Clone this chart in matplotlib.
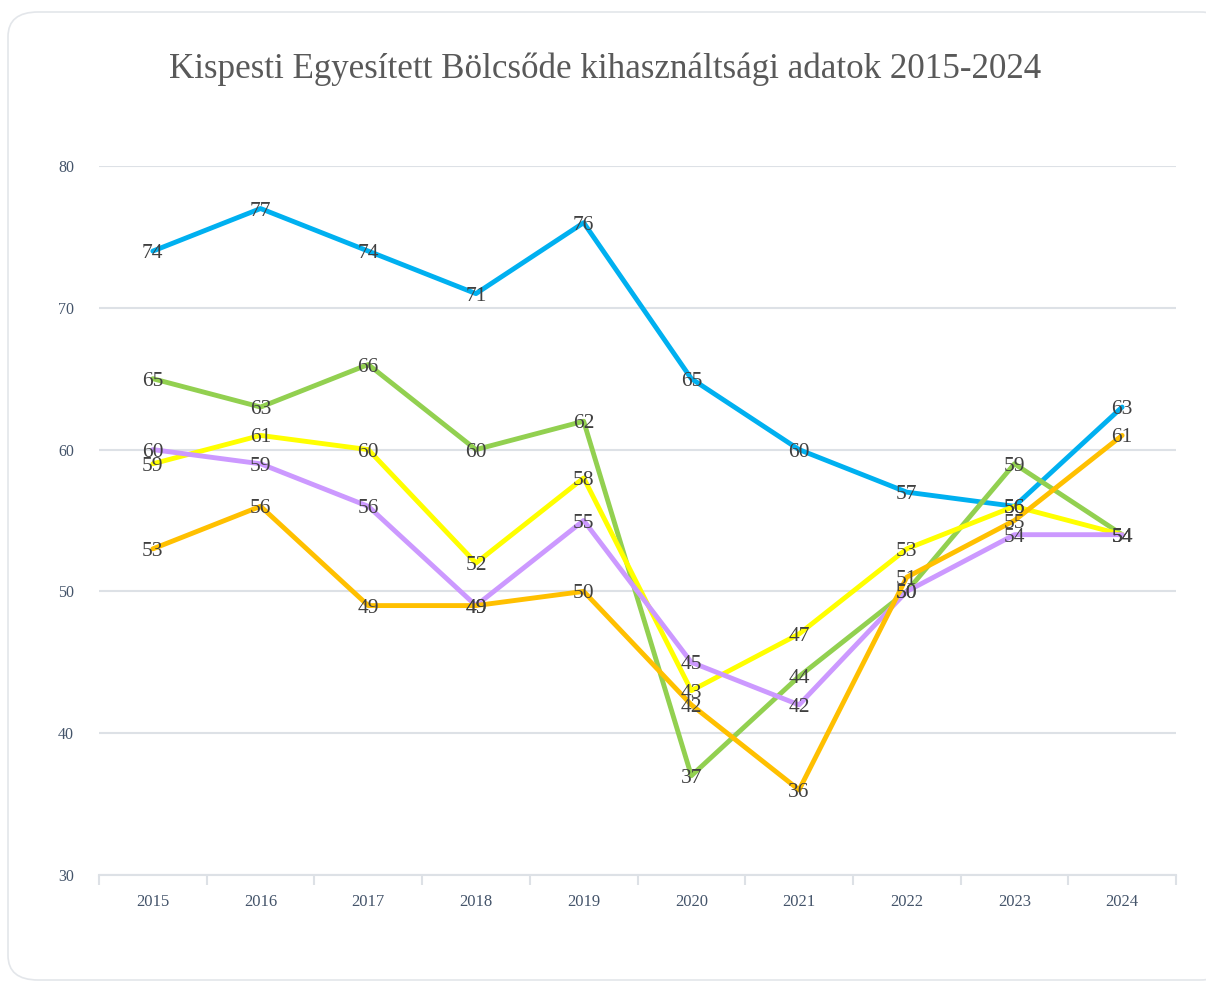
import matplotlib
matplotlib.use("Agg")
import matplotlib.pyplot as plt
from matplotlib.patches import FancyBboxPatch
from matplotlib.transforms import offset_copy

years = ["2015", "2016", "2017", "2018", "2019", "2020", "2021", "2022", "2023", "2024"]
blue = [74, 77, 74, 71, 76, 65, 60, 57, 56, 63]
green = [65, 63, 66, 60, 62, 37, 44, 50, 59, 54]
yellow = [59, 61, 60, 52, 58, 43, 47, 53, 56, 54]
purple = [60, 59, 56, 49, 55, 45, 42, 50, 54, 54]
orange = [53, 56, 49, 49, 50, 42, 36, 51, 55, 61]
y_ticks = [30, 40, 50, 60, 70, 80]
title = "Kispesti Egyesített Bölcsőde kihasználtsági adatok 2015-2024"

series = [
    (blue, "#00b0f0"),
    (green, "#92d050"),
    (yellow, "#ffff00"),
    (purple, "#cc99ff"),
    (orange, "#ffc000"),
]

W, H = 1206, 985
fig = plt.figure(figsize=(W / 100, H / 100), dpi=100)
fig.patch.set_facecolor("white")

# card frame
card = FancyBboxPatch((8 / W, 5 / H), (1230 - 8) / W, (973 - 5) / H,
                      boxstyle="round,pad=0,rounding_size=0.025",
                      transform=fig.transFigure, facecolor="white",
                      edgecolor="#e3e6ea", linewidth=1.2, zorder=-5)
fig.patches.append(card)

ax = fig.add_axes([99 / W, 1 - 875 / H, (1176 - 99) / W, (875 - 166) / H])
ax.set_zorder(2)
ax.set_facecolor("none")
x = list(range(len(years)))

for vals, col in series:
    ax.plot(x, vals, color=col, linewidth=3.5, solid_joinstyle="round",
            solid_capstyle="round", zorder=3)

label_tr = offset_copy(ax.transData, fig=fig, x=0, y=-2.5, units="dots")
for vals, col in series:
    for xi, v in zip(x, vals):
        ax.text(xi, v, str(v), ha="center", va="center", fontsize=15.5,
                family="Liberation Serif", color="#404040", zorder=5,
                transform=label_tr)

ax.set_xlim(-0.5, len(years) - 0.5)
ax.set_ylim(30, 80)
ax.set_yticks(y_ticks)
ax.set_yticklabels([str(t) for t in y_ticks], family="Liberation Serif",
                   fontsize=11.5, color="#44546a")
ax.set_xticks(x)
ax.set_xticklabels(years, family="Liberation Serif", fontsize=12, color="#44546a")
ax.set_xticks([i - 0.5 for i in range(len(years) + 1)], minor=True)
ax.tick_params(axis="x", which="major", length=0, pad=14)
ax.tick_params(axis="x", which="minor", length=7, width=1.5, color="#dde1e6")
ax.tick_params(axis="y", length=0, pad=18)
ax.grid(axis="y", color="#dde1e6", linewidth=1.5, zorder=1)
for s in ["top", "right", "left"]:
    ax.spines[s].set_visible(False)
ax.spines["bottom"].set_color("#dde1e6")
ax.spines["bottom"].set_linewidth(1.5)
ax.set_axisbelow(True)

fig.text(605 / W, 1 - 69 / H, title, ha="center", va="center",
         family="Liberation Serif", fontsize=25.2, color="#595959")

fig.savefig("out.png", dpi=100, facecolor="white")
